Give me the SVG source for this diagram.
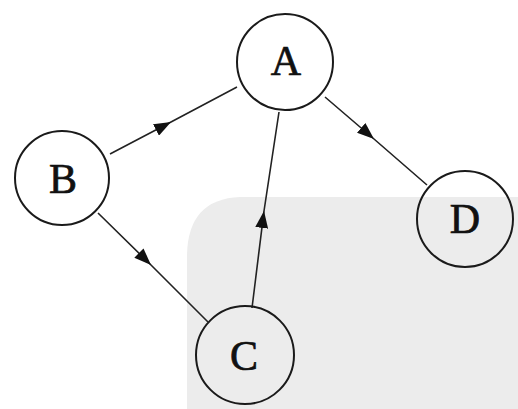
<svg xmlns="http://www.w3.org/2000/svg" width="518" height="409" viewBox="0 0 518 409">
<style>
.node circle{fill:none;stroke:#1a1a1a;stroke-width:2}
.node text{font-family:"Liberation Serif","Times New Roman",serif;font-size:42px;fill:#111;stroke:#111;stroke-width:0.7;text-anchor:middle}
.edge{fill:none;stroke:#222;stroke-width:1.6}
</style>
<defs>
<marker id="arr" viewBox="0 0 17 13" refX="17" refY="6.5" markerWidth="17" markerHeight="13" markerUnits="userSpaceOnUse" orient="auto">
<path d="M0,0 L17,6.5 L0,13 Z" fill="#111"/>
</marker>
</defs>
<rect width="518" height="409" fill="#fff"/>
<path d="M187 409 L187 255 Q188 199 240 197 L518 197 L518 409 Z" fill="#ececec"/>
<g id="connectors">
<path class="edge" d="M110 154 L171 122 L237 87" marker-mid="url(#arr)"/>
<path class="edge" d="M98 213 L151 265 L208 322" marker-mid="url(#arr)"/>
<path class="edge" d="M252 308 L264 211 L279 112" marker-mid="url(#arr)"/>
<path class="edge" d="M325 97 L374 139 L427 185" marker-mid="url(#arr)"/>
</g>
<g id="A" class="node"><circle cx="285" cy="62" r="48"/><text x="286" y="75">A</text></g>
<g id="B" class="node"><circle cx="62" cy="178" r="47"/><text x="63" y="193">B</text></g>
<g id="C" class="node"><circle cx="245" cy="355" r="49"/><text x="244" y="370">C</text></g>
<g id="D" class="node"><circle cx="465" cy="219" r="48"/><text x="465" y="233">D</text></g>
</svg>
